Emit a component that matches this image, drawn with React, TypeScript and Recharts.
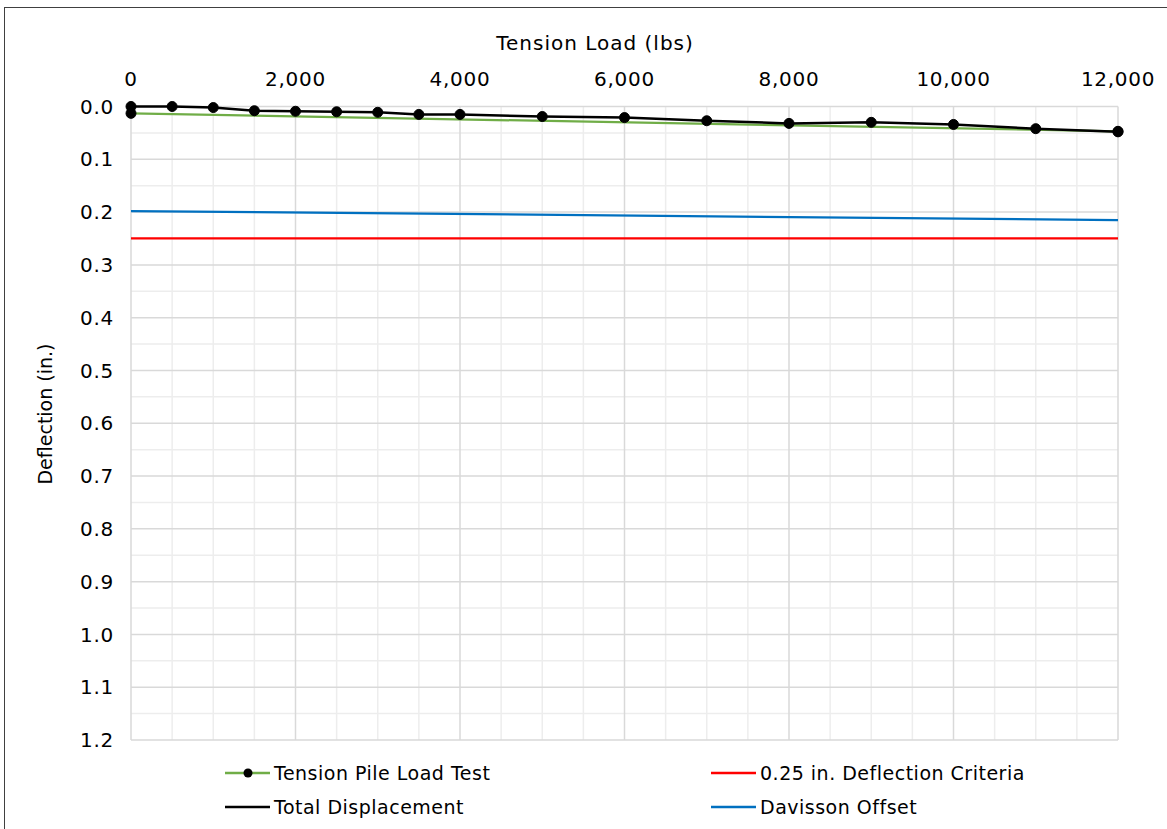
import { LineChart, Line, XAxis, YAxis, CartesianGrid, ReferenceLine } from 'recharts'

// load test readings (lbs / in.)
const loads = [0, 500, 1000, 1500, 2000, 2500, 3000, 3500, 4000, 5000, 6000, 7000, 8000, 9000, 10000, 11000, 12000]
const totalDisp = [0.0, 0.0, 0.002, 0.008, 0.009, 0.01, 0.011, 0.015, 0.015, 0.019, 0.021, 0.027, 0.032, 0.03, 0.034, 0.042, 0.048]

const testLoads = [0, 12000]
const testDisp = [0.013, 0.047]

const criteriaDisp = [0.25, 0.25]
const davissonDisp = [0.198, 0.215]

const xMajor = [0, 2000, 4000, 6000, 8000, 10000, 12000]
const xMinor = [500, 1000, 1500, 2500, 3000, 3500, 4500, 5000, 5500, 6500, 7000, 7500, 8500, 9000, 9500, 10500, 11000, 11500]
const yMajor = [0, 0.1, 0.2, 0.3, 0.4, 0.5, 0.6, 0.7, 0.8, 0.9, 1.0, 1.1, 1.2]
const yMinor = [0.05, 0.15, 0.25, 0.35, 0.45, 0.55, 0.65, 0.75, 0.85, 0.95, 1.05, 1.15]

const zip = (xs: number[], ys: number[]) => xs.map((x, i) => ({ x, y: ys[i] }))

const mainData = zip(loads, totalDisp)
const testData = zip(testLoads, testDisp)
const criteriaData = zip(testLoads, criteriaDisp)
const davissonData = zip(testLoads, davissonDisp)

const FONT = '"DejaVu Sans", Verdana, sans-serif'
const tickStyle = { fontSize: 20, fill: '#000', fontFamily: FONT, letterSpacing: 0.7 }
const MARGIN = { top: 66.5, right: 49, bottom: 89, left: 71 }

const legendItems = [
  { name: 'Tension Pile Load Test', color: '#70ad47', dot: true, col: 0, row: 0 },
  { name: '0.25 in. Deflection Criteria', color: '#ff0000', dot: false, col: 1, row: 0 },
  { name: 'Total Displacement', color: '#000000', dot: false, col: 0, row: 1 },
  { name: 'Davisson Offset', color: '#0070c0', dot: false, col: 1, row: 1 },
]

// light minor grid drawn underneath the main chart
function MinorGrid() {
  return (
    <LineChart width={1167} height={829} margin={MARGIN}>
      <XAxis dataKey="x" type="number" domain={[0, 12000]} orientation="top" height={40} tick={false} axisLine={false} tickLine={false} />
      <YAxis dataKey="y" type="number" domain={[0, 1.2]} reversed width={60} tick={false} axisLine={false} tickLine={false} />
      {xMinor.map((v) => (
        <ReferenceLine key={'x' + v} x={v} stroke="#ededed" strokeWidth={1.5} />
      ))}
      {yMinor.map((v) => (
        <ReferenceLine key={'y' + v} y={v} stroke="#ededed" strokeWidth={1.5} />
      ))}
      <Line data={mainData} dataKey="y" stroke="none" dot={false} isAnimationActive={false} />
    </LineChart>
  )
}

export default function App() {
  return (
    <div style={{ position: 'absolute', left: 0, top: 0, width: 1167, height: 829, overflow: 'hidden', background: '#fff', fontFamily: FONT }}>
      <div style={{ position: 'absolute', left: 4, top: 7, width: 1200, height: 900, border: '1px solid #404040' }} />
      <div style={{ position: 'absolute', left: 395, top: 30, width: 400, textAlign: 'center', fontSize: 20, lineHeight: '26px', letterSpacing: 1 }}>
        Tension Load (lbs)
      </div>
      <div style={{ position: 'absolute', left: 45, top: 414, width: 0, height: 0 }}>
        <div style={{ position: 'absolute', left: -150, top: -13, width: 300, textAlign: 'center', fontSize: 19, lineHeight: '26px', transform: 'rotate(-90deg)' }}>
          Deflection (in.)
        </div>
      </div>
      <div style={{ position: 'absolute', left: 0, top: 0 }}>
        <MinorGrid />
      </div>
      <div style={{ position: 'absolute', left: 0, top: 0 }}>
        <LineChart width={1167} height={829} margin={MARGIN}>
          <XAxis
            dataKey="x" type="number" domain={[0, 12000]} ticks={xMajor} orientation="top" height={40}
            axisLine={false} tickLine={false} tickSize={0} tickMargin={21} tick={tickStyle}
            tickFormatter={(v: number) => v.toLocaleString('en-US')} interval={0}
          />
          <YAxis
            dataKey="y" type="number" domain={[0, 1.2]} ticks={yMajor} reversed width={60}
            axisLine={false} tickLine={false} tickSize={0} tickMargin={17} tick={tickStyle}
            tickFormatter={(v: number) => v.toFixed(1)} interval={0}
          />
          <CartesianGrid stroke="#d9d9d9" strokeWidth={1.5} fill="none" />
          <Line data={davissonData} dataKey="y" stroke="#0070c0" strokeWidth={2.25} dot={false} isAnimationActive={false} />
          <Line data={criteriaData} dataKey="y" stroke="#ff0000" strokeWidth={2.25} dot={false} isAnimationActive={false} />
          <Line data={testData} dataKey="y" stroke="#70ad47" strokeWidth={2.25} dot={{ r: 5, fill: '#000', stroke: '#000', strokeWidth: 1 }} isAnimationActive={false} />
          <Line data={mainData} dataKey="y" stroke="#000" strokeWidth={2.5} dot={{ r: 5, fill: '#000', stroke: '#000', strokeWidth: 1 }} isAnimationActive={false} />
        </LineChart>
      </div>
      {legendItems.map((it) => (
        <div key={it.name} style={{ position: 'absolute', left: it.col === 0 ? 225 : 711, top: it.row === 0 ? 760 : 794, height: 26, display: 'flex', alignItems: 'center', fontSize: 19, letterSpacing: 0.5 }}>
          <svg width={45} height={26} style={{ display: 'block' }}>
            <line x1={0} y1={13} x2={45} y2={13} stroke={it.color} strokeWidth={2.5} />
            {it.dot && <circle cx={23} cy={13} r={4.5} fill="#000" />}
          </svg>
          <span style={{ marginLeft: 4, whiteSpace: 'nowrap' }}>{it.name}</span>
        </div>
      ))}
    </div>
  )
}
